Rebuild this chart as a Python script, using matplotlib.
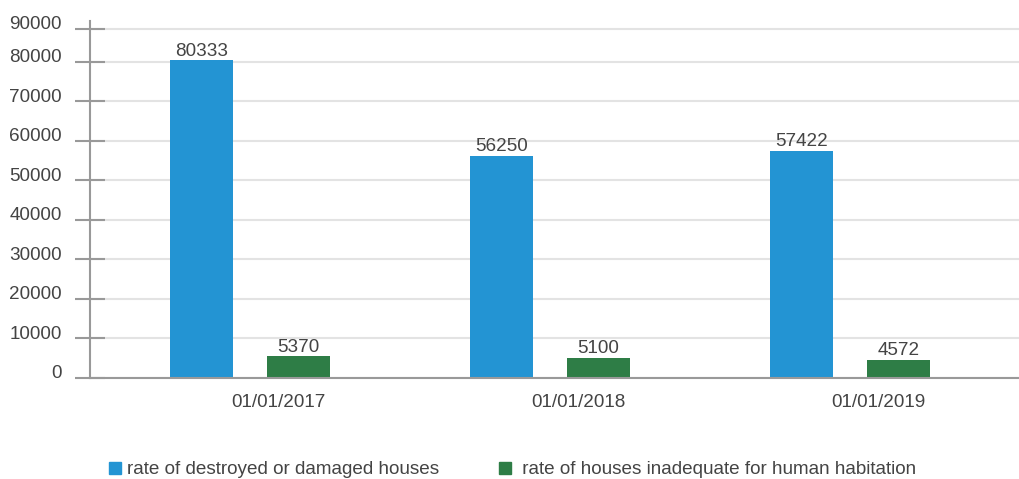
import matplotlib

matplotlib.use("Agg")
import matplotlib.pyplot as plt
import numpy as np
from matplotlib.patches import Patch
from matplotlib.transforms import ScaledTranslation

plt.rcParams["font.family"] = ["Liberation Sans", "DejaVu Sans"]

# datos
fechas = ["01/01/2017", "01/01/2018", "01/01/2019"]
destruidas = [80333, 56250, 57422]
inadecuadas = [5370, 5100, 4572]
series = ["rate of destroyed or damaged houses",
          " rate of houses inadequate for human habitation"]
ytick_vals = [0, 10000, 20000, 30000, 40000, 50000, 60000, 70000, 80000, 88300]
ytick_labels = ["0", "10000", "20000", "30000", "40000", "50000",
                "60000", "70000", "80000", "90000"]

AZUL = "#2394d3"
VERDE = "#2e7d46"
GRIS = "#999999"
TEXTO = "#444444"
FS = 13.6

W, H = 1020, 479
fig = plt.figure(figsize=(W / 100, H / 100), dpi=100)
ax = fig.add_axes([90 / W, 101.3 / H, (W - 90) / W, (377.7 - 21) / H])

x = np.arange(len(fechas))
off = 0.1617
ancho = 0.21
ax.bar(x - off, destruidas, width=ancho, color=AZUL, zorder=2)
ax.bar(x + off, inadecuadas, width=ancho, color=VERDE, zorder=2)

for xi, v in zip(x, destruidas):
    ax.annotate(f"{v}", (xi - off, v), xytext=(0, 3.5), textcoords="offset points",
                ha="center", va="baseline", fontsize=FS, color=TEXTO)
for xi, v in zip(x, inadecuadas):
    ax.annotate(f"{v}", (xi + off, v), xytext=(0, 3.5), textcoords="offset points",
                ha="center", va="baseline", fontsize=FS, color=TEXTO)

ax.set_xlim(-0.5333, 2.5667)
ax.set_ylim(0, 90300)

ax.set_xticks(x + 0.095)
ax.set_xticklabels(fechas, fontsize=FS, color=TEXTO)
ax.tick_params(axis="x", length=0, pad=12)

ax.set_yticks(ytick_vals)
ax.set_yticklabels(ytick_labels, fontsize=FS, color=TEXTO)
ax.tick_params(axis="y", direction="inout", length=21, width=1.5, color=GRIS, pad=10)
# etiquetas del eje y un poco por encima de la linea
for t in ax.yaxis.get_major_ticks():
    t.label1.set_transform(t.label1.get_transform()
                           + ScaledTranslation(0, 6 / 100, fig.dpi_scale_trans))

ax.grid(axis="y", color="#e3e3e3", linewidth=1.5, zorder=0)
ax.set_axisbelow(True)
for s in ["top", "right"]:
    ax.spines[s].set_visible(False)
for s in ["left", "bottom"]:
    ax.spines[s].set_color(GRIS)
    ax.spines[s].set_linewidth(1.5)

handles = [Patch(color=AZUL), Patch(color=VERDE)]
fig.legend(handles, series, loc="center left", bbox_to_anchor=(109 / W, 1 - 470 / H),
           ncol=2, frameon=False, fontsize=FS, handlelength=0.63, handleheight=0.63,
           handletextpad=0.3, columnspacing=3.2, borderpad=0, borderaxespad=0,
           labelcolor=TEXTO)

fig.savefig("out.png", dpi=100)
